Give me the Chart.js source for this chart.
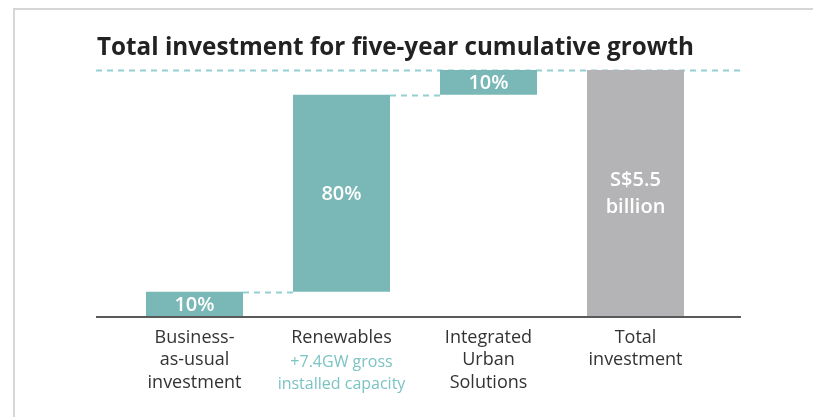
<!DOCTYPE html>
<html>
<head>
<meta charset="utf-8">
<script src="https://cdn.jsdelivr.net/npm/chart.js@4"></script>
<style>
  html, body { margin: 0; padding: 0; background: #fff; }
  #wrap { position: relative; width: 813px; height: 417px; overflow: hidden; }
  #frame {
    position: absolute; left: 13px; top: 8px; right: -4px; bottom: -4px;
    border-top: 2px solid #d6d6d6; border-left: 2px solid #d6d6d6;
  }
  canvas { position: absolute; left: 0; top: 0; }
</style>
</head>
<body>
<div id="wrap">
  <div id="frame"></div>
  <canvas id="chart" width="813" height="417"></canvas>
</div>
<script>
// waterfall: each step starts where the previous one ends
const categories = [
  ["Business-", "as-usual", "investment"],
  ["Renewables"],
  ["Integrated", "Urban", "Solutions"],
  ["Total", "investment"],
];
const barStart = [0, 10, 90, 0];
const barEnd = [10, 90, 100, 100];
const barText = [["10%"], ["80%"], ["10%"], ["S$5.5", "billion"]];
const renewablesNote = ["+7.4GW gross", "installed capacity"];
const title = "Total investment for five-year cumulative growth";

const TEAL = "#79b8b6";
const GREY = "#b4b4b6";
const DASH = "#93d0d1";
const FONT = "'Open Sans', sans-serif";

const overlay = {
  id: "overlay",
  beforeDatasetsDraw(chart) {
    const { ctx, scales: { y } } = chart;
    const bars = chart.getDatasetMeta(0).data;
    ctx.save();
    ctx.strokeStyle = DASH;
    ctx.lineWidth = 2;
    ctx.setLineDash([6, 5]);
    // dashed ceiling at the total
    const yTop = Math.round(y.getPixelForValue(100)) + 0.5;
    ctx.beginPath();
    ctx.moveTo(96, yTop);
    ctx.lineTo(741, yTop);
    ctx.stroke();
    // connectors between consecutive steps
    for (let i = 0; i < 2; i++) {
      const a = bars[i], b = bars[i + 1];
      const yy = Math.round(y.getPixelForValue(barEnd[i])) + 0.5;
      ctx.beginPath();
      ctx.moveTo(a.x + a.width / 2, yy);
      ctx.lineTo(b.x - b.width / 2, yy);
      ctx.stroke();
    }
    ctx.restore();
  },
  afterDatasetsDraw(chart) {
    const { ctx, scales: { x, y } } = chart;
    const bars = chart.getDatasetMeta(0).data;
    ctx.save();

    // values inside the bars
    ctx.fillStyle = "#fff";
    ctx.font = "600 20px " + FONT;
    ctx.textAlign = "center";
    ctx.textBaseline = "middle";
    bars.forEach((bar, i) => {
      const lines = barText[i];
      const mid = (y.getPixelForValue(barStart[i]) + y.getPixelForValue(barEnd[i])) / 2;
      const lh = 27;
      const y0 = mid - (lines.length - 1) * lh / 2 + 1;
      lines.forEach((t, k) => ctx.fillText(t, bar.x, y0 + k * lh));
    });

    // baseline
    const yBase = Math.round(y.getPixelForValue(0));
    ctx.strokeStyle = "#5a5a5a";
    ctx.lineWidth = 2;
    ctx.beginPath();
    ctx.moveTo(96, yBase);
    ctx.lineTo(741, yBase);
    ctx.stroke();

    // note under the renewables label
    ctx.fillStyle = "#7cc3c3";
    ctx.font = "16px " + FONT;
    renewablesNote.forEach((t, k) => ctx.fillText(t, x.getPixelForValue(1), yBase + 45 + k * 22.5));

    // title, squeezed to a condensed width
    ctx.font = "bold 25px " + FONT;
    ctx.fillStyle = "#222";
    ctx.textAlign = "left";
    ctx.textBaseline = "alphabetic";
    const w = ctx.measureText(title).width;
    ctx.translate(97, 55);
    ctx.scale(597 / w, 1);
    ctx.fillText(title, 0, 0);
    ctx.restore();
  },
};

new Chart(document.getElementById("chart"), {
  type: "bar",
  data: {
    labels: categories,
    datasets: [{
      data: barStart.map((s, i) => [s, barEnd[i]]),
      backgroundColor: [TEAL, TEAL, TEAL, GREY],
      borderWidth: 0,
      barPercentage: 1,
      categoryPercentage: 0.66,
    }],
  },
  options: {
    responsive: false,
    animation: false,
    layout: { padding: { left: 121, right: 104, top: 70, bottom: 13 } },
    plugins: { legend: { display: false }, tooltip: { enabled: false } },
    scales: {
      x: {
        grid: { display: false, drawTicks: false },
        border: { display: false },
        ticks: {
          color: "#333",
          font: { family: FONT, size: 18, lineHeight: 1.25 },
          padding: 10,
          maxRotation: 0,
          autoSkip: false,
        },
      },
      y: { display: false, min: 0, max: 100 },
    },
  },
  plugins: [overlay],
});
</script>
</body>
</html>
